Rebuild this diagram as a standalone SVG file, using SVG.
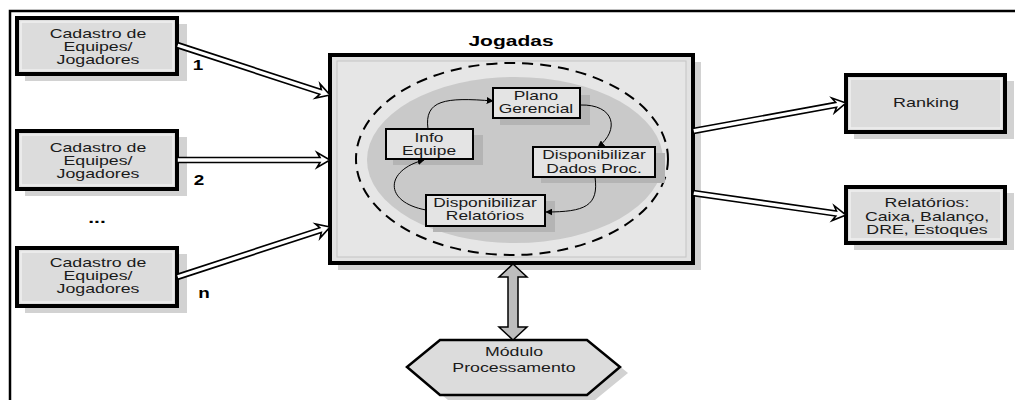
<svg xmlns="http://www.w3.org/2000/svg" width="1015" height="400" viewBox="0 0 1015 400">
<style>
text{font-family:"Liberation Sans",Arial,sans-serif;font-size:12px;fill:#1a1a1a;text-anchor:middle}
.b{font-weight:bold;font-size:14px;fill:#000}
.shadow{fill:#d2d2d2}
.box{fill:#dcdcdc;stroke:#000;stroke-width:4}
.rim{fill:none;stroke:#efefef;stroke-width:1.5}
.ibox{fill:#e4e4e4;stroke:#000;stroke-width:2}
.ishadow{fill:#b4b4b4}
.hollow{fill:#fff;stroke:#000;stroke-width:1.6;stroke-linejoin:miter}
.curve{fill:none;stroke:#000;stroke-width:1}
</style>
<defs>
<marker id="ah" viewBox="0 0 10 10" refX="9" refY="5" markerWidth="7" markerHeight="7" orient="auto" markerUnits="userSpaceOnUse">
<path d="M0,0 L10,5 L0,10 Z" fill="#000"/>
</marker>
</defs>
<rect width="1015" height="400" fill="#fff"/>
<!-- frame -->
<path d="M10,400 V11 H1015" fill="none" stroke="#000" stroke-width="2.5"/>

<g id="cad1">
<rect class="shadow" x="25" y="24" width="162" height="57"/>
<rect class="box" x="17" y="18" width="160" height="56"/>
<rect class="rim" x="21" y="22" width="152" height="48"/>
<text transform="translate(98,38) scale(1.48,1)">Cadastro de</text>
<text transform="translate(98,51) scale(1.48,1)">Equipes/</text>
<text transform="translate(98,64) scale(1.48,1)">Jogadores</text>
</g>
<g id="cad2">
<rect class="shadow" x="25" y="137" width="162" height="59"/>
<rect class="box" x="17" y="131" width="160" height="58"/>
<rect class="rim" x="21" y="135" width="152" height="50"/>
<text transform="translate(98,152) scale(1.48,1)">Cadastro de</text>
<text transform="translate(98,165) scale(1.48,1)">Equipes/</text>
<text transform="translate(98,178) scale(1.48,1)">Jogadores</text>
</g>
<g id="cadn">
<rect class="shadow" x="25" y="254" width="162" height="59"/>
<rect class="box" x="17" y="248" width="160" height="58"/>
<rect class="rim" x="21" y="252" width="152" height="50"/>
<text transform="translate(98,267) scale(1.48,1)">Cadastro de</text>
<text transform="translate(98,280) scale(1.48,1)">Equipes/</text>
<text transform="translate(98,293) scale(1.48,1)">Jogadores</text>
</g>
<g id="labels">
<text class="b" transform="translate(198,70) scale(1.35,1)">1</text>
<text class="b" transform="translate(199,185) scale(1.35,1)">2</text>
<text class="b" transform="translate(204,298) scale(1.35,1)">n</text>
<text class="b" transform="translate(97,223) scale(1.5,1)">...</text>
</g>

<g id="jogadas">
<text class="b" style="font-size:14px" transform="translate(511,46) scale(1.5,1)">Jogadas</text>
<rect class="shadow" x="338" y="62" width="363" height="208"/>
<rect x="330" y="55" width="363" height="208" fill="#e2e2e2" stroke="#000" stroke-width="4"/>
<rect x="337" y="61" width="349" height="196" fill="#e6e6e6" stroke="#c4c4c4" stroke-width="1"/>
<ellipse cx="515" cy="160" rx="148" ry="83" fill="#c9c9c9"/>
<ellipse cx="512" cy="159" rx="156" ry="96" fill="none" stroke="#000" stroke-width="2" stroke-dasharray="11,7"/>
</g>

<g id="plano">
<rect class="ishadow" x="500" y="95" width="90" height="30"/>
<rect class="ibox" x="493" y="88" width="87" height="30"/>
<text transform="translate(536,99.5) scale(1.45,1)">Plano</text>
<text transform="translate(536,113) scale(1.45,1)">Gerencial</text>
</g>
<g id="info">
<rect class="ishadow" x="393" y="135" width="90" height="30"/>
<rect class="ibox" x="386" y="129" width="87" height="30"/>
<text transform="translate(429,142) scale(1.45,1)">Info</text>
<text transform="translate(429,154.5) scale(1.45,1)">Equipe</text>
</g>
<g id="dados">
<rect class="ishadow" x="541" y="153" width="124" height="30"/>
<rect class="ibox" x="533" y="147" width="122" height="30"/>
<text transform="translate(594,159) scale(1.45,1)">Disponibilizar</text>
<text transform="translate(594,173) scale(1.45,1)">Dados Proc.</text>
</g>
<g id="relat">
<rect class="ishadow" x="433" y="201" width="122" height="31"/>
<rect class="ibox" x="426" y="195" width="119" height="31"/>
<text transform="translate(485,207) scale(1.45,1)">Disponibilizar</text>
<text transform="translate(485,220) scale(1.45,1)">Relatórios</text>
</g>

<g id="ranking">
<rect class="shadow" x="854" y="81" width="160" height="58"/>
<rect class="box" x="846" y="75" width="159" height="57"/>
<rect class="rim" x="850" y="79" width="151" height="49"/>
<text transform="translate(926,107) scale(1.5,1)">Ranking</text>
</g>
<g id="relatorios">
<rect class="shadow" x="854" y="193" width="160" height="57"/>
<rect class="box" x="846" y="187" width="159" height="56"/>
<rect class="rim" x="850" y="191" width="151" height="48"/>
<text transform="translate(927,207) scale(1.48,1)">Relatórios:</text>
<text transform="translate(927,220.5) scale(1.48,1)">Caixa, Balanço,</text>
<text transform="translate(927,234) scale(1.48,1)">DRE, Estoques</text>
</g>

<g id="modulo">
<polygon points="415,373 448,346 595,346 628,373 595,400 448,400" fill="#d2d2d2"/>
<polygon points="407,367 440,340 587,340 620,367 587,395 440,395" fill="#dcdcdc" stroke="#000" stroke-width="2.5"/>
<text transform="translate(514,356) scale(1.48,1)">Módulo</text>
<text transform="translate(514,372) scale(1.48,1)">Processamento</text>
</g>

<g id="connectors">
<path class="hollow" transform="translate(177,45) rotate(18.1)" d="M0,-2.5 H151 L148,-7.5 L161,0 L148,7.5 L151,2.5 H0 Z"/>
<path class="hollow" transform="translate(177,160)" d="M0,-2.5 H143 L140,-7.5 L153,0 L140,7.5 L143,2.5 H0 Z"/>
<path class="hollow" transform="translate(177,277) rotate(-18.1)" d="M0,-2.5 H151 L148,-7.5 L161,0 L148,7.5 L151,2.5 H0 Z"/>
<path class="hollow" transform="translate(693,131) rotate(-10.37)" d="M0,-2.5 H145.5 L142.5,-7.5 L155.5,0 L142.5,7.5 L145.5,2.5 H0 Z"/>
<path class="hollow" transform="translate(693,193) rotate(8.18)" d="M0,-2.5 H144.6 L141.6,-7.5 L154.6,0 L141.6,7.5 L144.6,2.5 H0 Z"/>
<polygon points="513,264 527,277 518,277 518,327 527,327 513,340 499,327 508,327 508,277 499,277" fill="#bdbdbd" stroke="#000" stroke-width="1.5"/>
<path class="curve" marker-end="url(#ah)" d="M428,129 C424,100 445,97 493,101"/>
<path class="curve" marker-end="url(#ah)" d="M580,105 C615,104 620,130 598,147"/>
<path class="curve" marker-end="url(#ah)" d="M595,177 C599,206 585,212 546,212"/>
<path class="curve" marker-end="url(#ah)" d="M426,210 C383,202 385,170 424,160"/>
</g>
</svg>
